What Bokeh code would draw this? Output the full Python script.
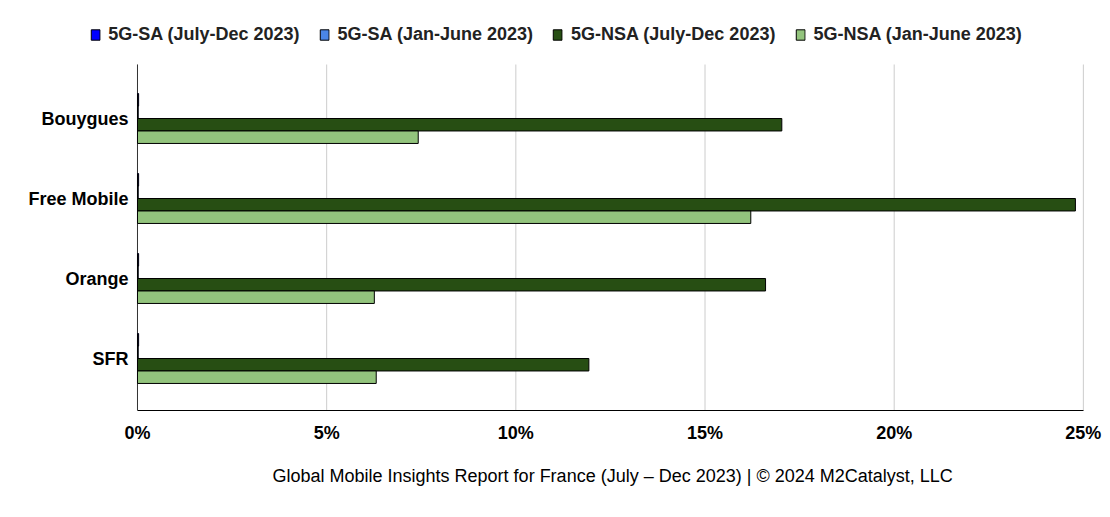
from bokeh.plotting import figure
from bokeh.models import ColumnDataSource, Range1d, Legend, LegendItem, PrintfTickFormatter, Title
from bokeh.core.properties import value
from bokeh.transform import dodge
from bokeh.embed import file_html
from bokeh.resources import INLINE

# Operators listed bottom to top
operators = ["SFR", "Orange", "Free Mobile", "Bouygues"]

series_names = ["5G-SA (July-Dec 2023)", "5G-SA (Jan-June 2023)",
                "5G-NSA (July-Dec 2023)", "5G-NSA (Jan-June 2023)"]
series_colors = ["#0000ff", "#4a86e8", "#274e13", "#93c47d"]

# share of time on each network type, in percent
sa_jul_dec = [0.03, 0.03, 0.03, 0.03]
sa_jan_jun = [0.02, 0.02, 0.02, 0.02]
nsa_jul_dec = [11.93, 16.60, 24.79, 17.03]
nsa_jan_jun = [6.31, 6.26, 16.21, 7.42]

x_ticks = [0, 5, 10, 15, 20, 25]

source = ColumnDataSource(data=dict(
    operator=operators,
    pos=list(range(len(operators))),
    sa_jul_dec=sa_jul_dec,
    sa_jan_jun=sa_jan_jun,
    nsa_jul_dec=nsa_jul_dec,
    nsa_jan_jun=nsa_jan_jun,
))

FONT = "Liberation Sans"
Y_BOTTOM, Y_PLOT_TOP, Y_TOP = -0.65, 3.675, 4.35

# frame covers the legend strip at the top and the category names on the left
p = figure(y_range=Range1d(Y_BOTTOM, Y_TOP), x_range=Range1d(-2.907, 25.03),
           width=1102, height=509, output_backend="svg", toolbar_location=None,
           min_border_left=27, min_border_right=18, min_border_top=10, min_border_bottom=99)

# grid lines and zero line only over the bar area
p.segment(x0=x_ticks, x1=x_ticks, y0=Y_BOTTOM, y1=Y_PLOT_TOP, line_color="#cccccc", line_width=1)
p.segment(x0=[0], x1=[0], y0=Y_BOTTOM, y1=Y_PLOT_TOP, line_color="#333333", line_width=1)

bar_h = 0.156
offsets = [0.234, 0.078, -0.078, -0.234]
columns = ["sa_jul_dec", "sa_jan_jun", "nsa_jul_dec", "nsa_jan_jun"]
items = []
for col, off, color, name in zip(columns, offsets, series_colors, series_names):
    r = p.hbar(y=dodge("pos", off), right=col, left=0, height=bar_h,
               source=source, fill_color=color, line_color="black", line_width=1)
    items.append(LegendItem(label=name, renderers=[r]))

# category names next to the zero line
p.text(x=0, y="pos", text="operator", source=source, x_offset=-9,
       text_align="right", text_baseline="middle", text_font=value(FONT),
       text_font_style="bold", text_font_size="18px", text_color="#000000")

legend = Legend(items=items, orientation="horizontal", location="top_center",
                label_text_font=FONT, label_text_font_style="bold", label_text_font_size="18px",
                label_text_color="#222222", glyph_width=11, glyph_height=13, label_standoff=8,
                spacing=19, padding=4, margin=14, border_line_color=None, background_fill_alpha=0)
p.add_layout(legend)

p.yaxis.visible = False

p.xaxis.ticker = x_ticks
p.xaxis.bounds = (0, 25)
p.xaxis.formatter = PrintfTickFormatter(format="%d%%")
p.xaxis.major_label_text_font = FONT
p.xaxis.major_label_text_font_style = "bold"
p.xaxis.major_label_text_font_size = "18px"
p.xaxis.major_label_text_color = "#000000"
p.xaxis.major_label_standoff = 6
p.xaxis.major_tick_line_color = None
p.xaxis.minor_tick_line_color = None
p.xaxis.axis_line_color = "black"

# footer credit, centred under the 0-25% span rather than the whole frame
footer = Title(text="Global Mobile Insights Report for France (July \u2013 Dec 2023) | \u00a9 2024 M2Catalyst, LLC",
               align="left", offset=245, standoff=37, text_font=FONT, text_font_style="normal",
               text_font_size="18px", text_color="#000000")
p.add_layout(footer, "below")

p.xgrid.grid_line_color = None
p.ygrid.grid_line_color = None
p.outline_line_color = None

open("out.html", "w").write(file_html(p, INLINE))
